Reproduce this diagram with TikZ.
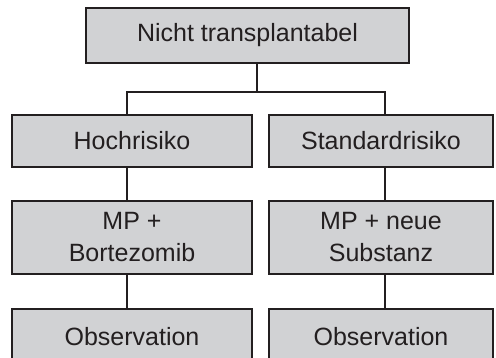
\documentclass[tikz,border=0pt]{standalone}
\usepackage{fontspec}
\setmainfont{Liberation Sans}
\definecolor{boxfill}{HTML}{D1D2D4}
\definecolor{ink}{HTML}{231F20}
\tikzset{
  box/.style={draw=ink, line width=1.4pt, fill=boxfill, text=ink, inner sep=0pt,
    align=center, font=\fontsize{25}{32}\selectfont},
  link/.style={draw=ink, line width=2.2pt}
}
\begin{document}
\begin{tikzpicture}[x=1pt,y=1pt]
\useasboundingbox (0,0) rectangle (496,-358);
\clip (0,0) rectangle (496,-358);
\fill[white] (0,0) rectangle (496,-358);
% boxes
\node[box, minimum width=323pt, minimum height=55pt] (top) at (247.5,-35.5) {Nicht transplantabel};
\node[box, minimum width=240pt, minimum height=52pt] (hoch) at (132,-141) {Hochrisiko};
\node[box, minimum width=224pt, minimum height=52pt] (std) at (381,-141) {Standardrisiko};
\node[box, minimum width=240pt, minimum height=73pt] (mpl) at (132,-237.5) {MP +\\Bortezomib};
\node[box, minimum width=224pt, minimum height=73pt] (mpr) at (381,-237.5) {MP + neue\\Substanz};
\node[box, minimum width=240pt, minimum height=55pt] (obl) at (132,-336.5) {Observation};
\node[box, minimum width=224pt, minimum height=55pt] (obr) at (381,-336.5) {Observation};
% junctions
\coordinate (jT) at (257,-92);
\coordinate (jL) at (127,-92);
\coordinate (jR) at (385,-92);
% connectors
\draw[link] (jT |- top.south) -- (jT);
\draw[link, line cap=rect] (jL) -- (jR);
\draw[link] (jL) -- (jL |- hoch.north);
\draw[link] (jR) -- (jR |- std.north);
\draw[link] (jL |- hoch.south) -- (jL |- mpl.north);
\draw[link] (jR |- std.south) -- (jR |- mpr.north);
\draw[link] (jL |- mpl.south) -- (jL |- obl.north);
\draw[link] (jR |- mpr.south) -- (jR |- obr.north);
\end{tikzpicture}
\end{document}
